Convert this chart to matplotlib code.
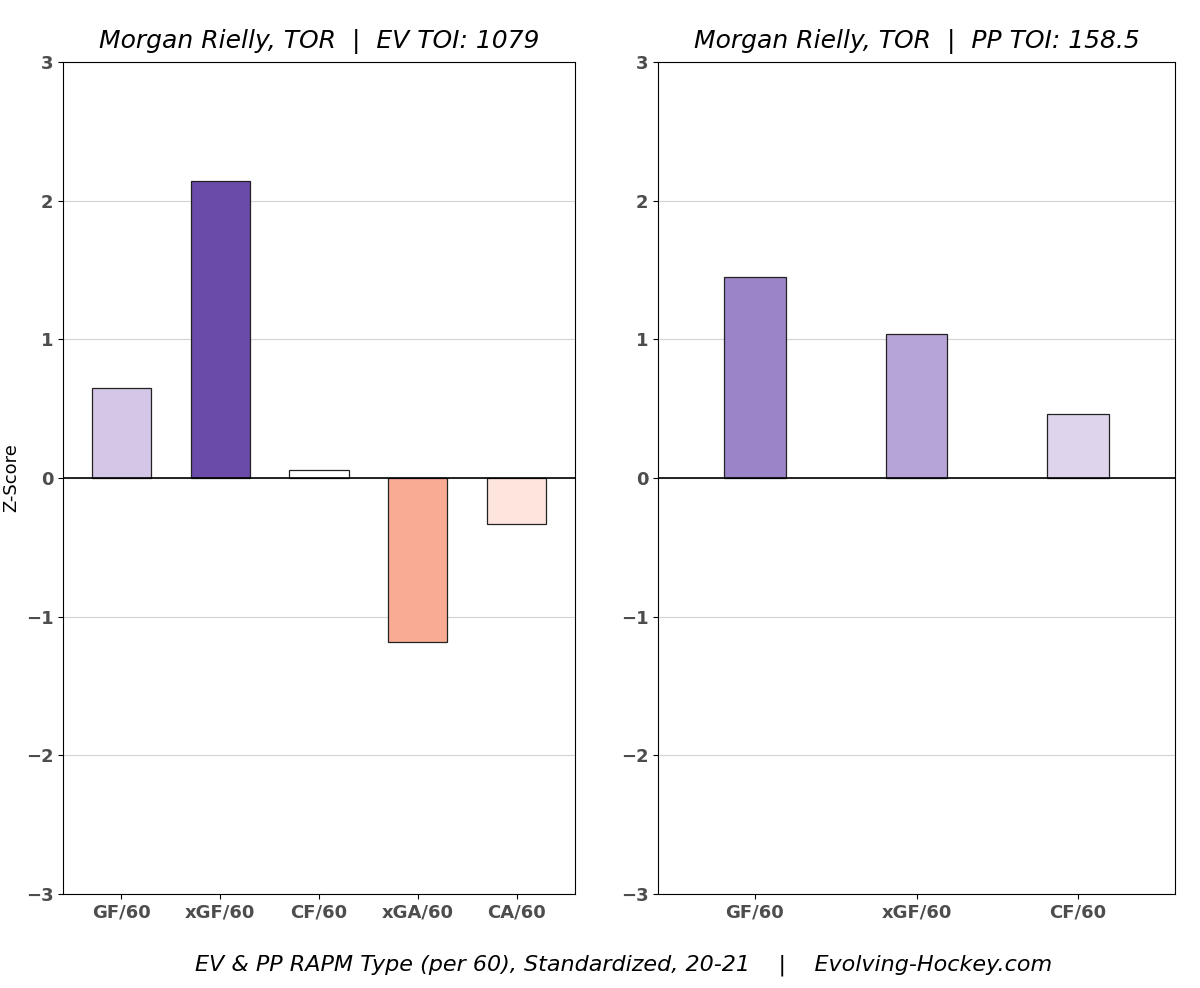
import matplotlib
matplotlib.use("Agg")
import matplotlib.pyplot as plt

ev_labels = ["GF/60", "xGF/60", "CF/60", "xGA/60", "CA/60"]
ev_values = [0.65, 2.14, 0.06, -1.18, -0.33]
ev_colors = ["#d4c6e6", "#6a4baa", "#ffffff", "#f9ac94", "#fde4dc"]

pp_labels = ["GF/60", "xGF/60", "CF/60"]
pp_values = [1.45, 1.04, 0.46]
pp_colors = ["#9b84c8", "#b7a4d7", "#ded5ec"]

fig = plt.figure(figsize=(12, 9.88), dpi=100)
ax1 = fig.add_axes([63 / 1200, 1 - 894 / 988, 512 / 1200, 832 / 988])
ax2 = fig.add_axes([658 / 1200, 1 - 894 / 988, 517 / 1200, 832 / 988])


def draw(ax, labels, values, colors, width, xlim, title):
    ax.set_axisbelow(True)
    ax.grid(axis="y", color="#d3d3d3", lw=0.8)
    ax.bar(range(len(values)), values, width=width, color=colors,
           edgecolor="#222222", lw=0.9, zorder=2)
    ax.axhline(0, color="black", lw=1.2, zorder=3)
    ax.set_ylim(-3, 3)
    ax.set_xlim(*xlim)
    ax.set_yticks(range(-3, 4))
    ax.set_xticks(range(len(labels)))
    ax.set_xticklabels(labels)
    for t in ax.get_xticklabels() + ax.get_yticklabels():
        t.set_fontweight("bold")
        t.set_color("#4d4d4d")
        t.set_fontsize(13)
    ax.set_title(title, fontsize=18, style="italic", pad=10)


draw(ax1, ev_labels, ev_values, ev_colors, 0.6, (-0.59, 4.59),
     "Morgan Rielly, TOR  |  EV TOI: 1079")
draw(ax2, pp_labels, pp_values, pp_colors, 0.38, (-0.6, 2.6),
     "Morgan Rielly, TOR  |  PP TOI: 158.5")
ax1.set_ylabel("Z-Score", fontsize=13)

fig.text(0.52, 1 - 965 / 988,
         "EV & PP RAPM Type (per 60), Standardized, 20-21    |    Evolving-Hockey.com",
         ha="center", va="center", fontsize=16, style="italic")

fig.savefig("out.png", dpi=100)
